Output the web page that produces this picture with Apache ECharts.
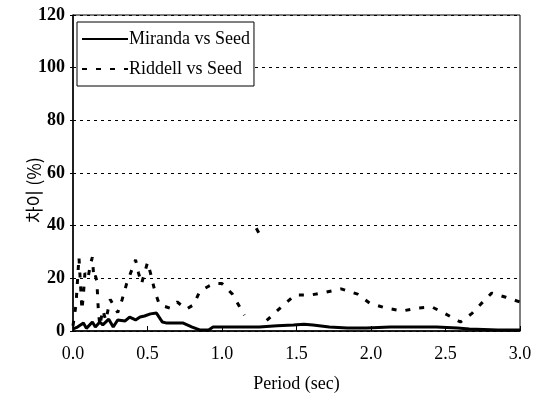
<!DOCTYPE html>
<html>
<head>
<meta charset="utf-8">
<script src="https://cdn.jsdelivr.net/npm/echarts@6/dist/echarts.min.js"></script>
<style>html,body{margin:0;padding:0;background:#fff}#c{width:546px;height:420px}</style>
</head>
<body>
<div id="c"></div>
<script>
var seriesNames = ['Miranda vs Seed', 'Riddell vs Seed'];
var xTicks = ['0.0','0.5','1.0','1.5','2.0','2.5','3.0'];
var yTicks = [0,20,40,60,80,100,120];

var mirandaPeriod = [0,0.03,0.07,0.09,0.13,0.15,0.18,0.20,0.24,0.27,0.30,0.35,0.38,0.42,0.45,0.48,0.52,0.56,0.60,0.63,0.67,0.74,0.80,0.85,0.91,0.94,1.0,1.17,1.25,1.37,1.48,1.55,1.61,1.72,1.84,1.97,2.13,2.28,2.44,2.58,2.66,2.85,3.0];
var mirandaValue  = [0.8,1.5,3,1,3.4,1.5,3.4,2.3,4.5,1.5,4.2,3.8,5.3,4.2,5.3,5.7,6.5,6.8,3.4,3,3,3,1.5,0.4,0.4,1.5,1.5,1.5,1.5,2,2.3,2.6,2.3,1.5,1.1,1.1,1.5,1.5,1.5,1.1,0.8,0.4,0.4];

var riddellPeriod = [0,0.02,0.04,0.05,0.06,0.07,0.08,0.10,0.12,0.13,0.14,0.15,0.16,0.17,0.18,0.20,0.22,0.25,0.28,0.30,0.33,0.36,0.40,0.42,0.44,0.46,0.48,0.50,0.52,0.55,0.58,0.65,0.70,0.76,0.81,0.85,0.91,0.95,1.0,1.07,1.15,1.20,1.23,1.25,1.27,1.30,1.39,1.49,1.60,1.70,1.80,1.91,1.99,2.10,2.21,2.31,2.41,2.50,2.60,2.68,2.75,2.81,2.90,3.0];
var riddellValue  = [2,10,28,18,8,14,22,20,26,28,20,21,19,8,2,8,4,12,9,7,12,18,24,27,22,18,22,26,22,15,10,8.7,11,8.3,10,15,17,18,18,14,6,null,39,37,null,4,8.7,13.7,13.7,14.8,16,14,10.6,8.7,7.6,8.7,9.1,6.5,3.4,6.8,11,14.4,12.9,11];

function pairs(xs, ys){ return xs.map(function(x,i){ return [x, ys[i]]; }); }

var serif = 'Liberation Serif';
var chart = echarts.init(document.getElementById('c'), null, {renderer:'canvas'});
chart.setOption({
  animation:false,
  backgroundColor:'#fff',
  grid:{left:73,right:26,top:15,bottom:89,show:true,borderColor:'#000',borderWidth:1,backgroundColor:'transparent'},
  legend:{
    orient:'vertical', left:77, top:22,
    data:seriesNames,
    borderColor:'#000', borderWidth:1,
    padding:[8,4,8,4], itemGap:12,
    itemWidth:46, itemHeight:14,
    itemStyle:{opacity:0},
    textStyle:{fontFamily:serif,fontSize:18,color:'#000',padding:[0,0,0,-4]},
    backgroundColor:'#fff'
  },
  xAxis:{
    type:'value', min:0, max:3, interval:0.5,
    name:'Period (sec)', nameLocation:'middle', nameGap:44,
    nameTextStyle:{fontFamily:serif,fontSize:18,color:'#000'},
    axisLine:{show:true,lineStyle:{color:'#000',width:1.5}},
    axisTick:{show:true,inside:true,length:5,lineStyle:{color:'#000'}},
    axisLabel:{fontFamily:serif,fontSize:18,color:'#000',margin:14,formatter:function(v){ return xTicks[Math.round(v/0.5)]; }},
    splitLine:{show:false}
  },
  yAxis:{
    type:'value', min:0, max:120, interval:20,
    name:'차이 (%)', nameLocation:'middle', nameGap:30, nameRotate:90, nameMoveOverlap:false,
    nameTextStyle:{fontFamily:'Noto Sans CJK KR',fontSize:18,color:'#000',padding:[0,34,0,0]},
    axisLine:{show:true,lineStyle:{color:'#000',width:1.5}},
    axisTick:{show:true,length:3,lineStyle:{color:'#000'}},
    axisLabel:{fontFamily:serif,fontSize:18,color:'#000',margin:8,fontWeight:'bold',formatter:function(v){ return yTicks.indexOf(v)>=0 ? String(v) : ''; }},
    splitLine:{show:true,lineStyle:{color:'#000',width:1,type:[3,4]}}
  },
  series:[
    {name:seriesNames[0],type:'line',data:pairs(mirandaPeriod,mirandaValue),showSymbol:false,symbol:'none',
     lineStyle:{color:'#000',width:3},itemStyle:{color:'#000'}},
    {name:seriesNames[1],type:'line',data:pairs(riddellPeriod,riddellValue),showSymbol:false,symbol:'none',connectNulls:false,
     lineStyle:{color:'#000',width:3,type:[5,9]},itemStyle:{color:'#000'}}
  ]
});
</script>
</body>
</html>
